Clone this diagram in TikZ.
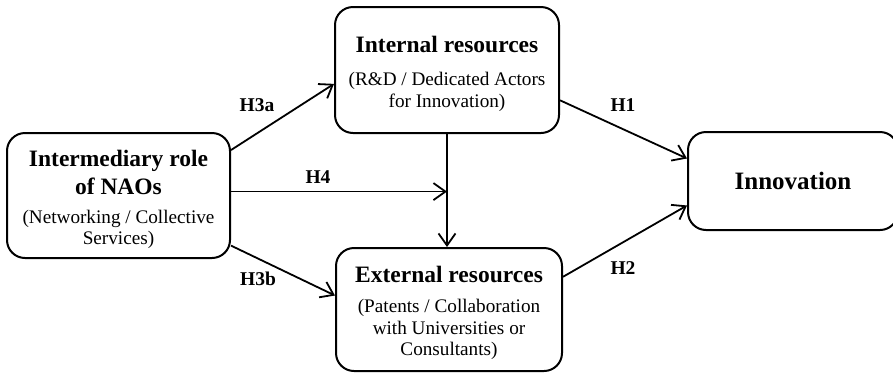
\documentclass[tikz,border=0pt]{standalone}
\usepackage{fontspec}
\setmainfont{Liberation Serif}
\usetikzlibrary{arrows.meta}

\newcommand{\boxtitle}{\fontsize{23.5}{27}\selectfont\bfseries}
\newcommand{\boxnote}{\fontsize{19.2}{21.5}\selectfont}
\newcommand{\topgap}{\rule{0pt}{24pt}}

\begin{document}
\begin{tikzpicture}[x=1pt,y=-1pt,
  factor/.style={draw=cline,text=ctext,line width=2pt,rounded corners=18pt,align=center,inner sep=0pt,font=\boxnote},
  link/.style={draw=cline,line width=1.8pt,-{Straight Barb[length=12pt,width=17pt,line width=1.8pt]}},
  hyp/.style={text=ctext,font=\fontsize{19.5}{22}\selectfont\bfseries,inner sep=0pt}]
\definecolor{cline}{rgb}{0.0,0.0,0.0}
\definecolor{ctext}{rgb}{0.0,0.0,0.0}
\useasboundingbox (0,0) rectangle (893,373);
%
\node[factor,minimum width=223pt,minimum height=125pt] (nao) at (118.5,195.5)
  {\boxtitle\topgap Intermediary role\\[5.5pt]\boxtitle of NAOs\\[7.5pt](Networking / Collective\\Services)};
\node[factor,minimum width=224pt,minimum height=126pt] (int) at (447,70)
  {\boxtitle\topgap Internal resources\\[11.5pt](R\&D / Dedicated Actors\\for Innovation)};
\node[factor,minimum width=226pt,minimum height=123pt] (ext) at (449,309.5)
  {\boxtitle\topgap External resources\\[8.5pt](Patents / Collaboration\\with Universities or\\Consultants)};
\node[factor,minimum width=210pt,minimum height=98pt] (inn) at (793,181)
  {\fontsize{25}{28}\selectfont\bfseries Innovation};
%
\draw[link] (nao.22) -- (int.187);
\draw[link] (nao.2) -- (nao.2 -| int.south);
\draw[link] (nao.-24) -- (ext.173);
\draw[link] (int.south) -- (int.south |- ext.north);
\draw[link] (int.-15) -- (inn.168);
\draw[link] (ext.16) -- (inn.193);
%
\node[hyp] (h3a) at (257,105) {H3a};
\node[hyp] (h4) at (318,177) {H4};
\node[hyp] (h3b) at (258,279) {H3b};
\node[hyp] (h1) at (623,105) {H1};
\node[hyp] (h2) at (623,268) {H2};
%
\end{tikzpicture}
\end{document}
